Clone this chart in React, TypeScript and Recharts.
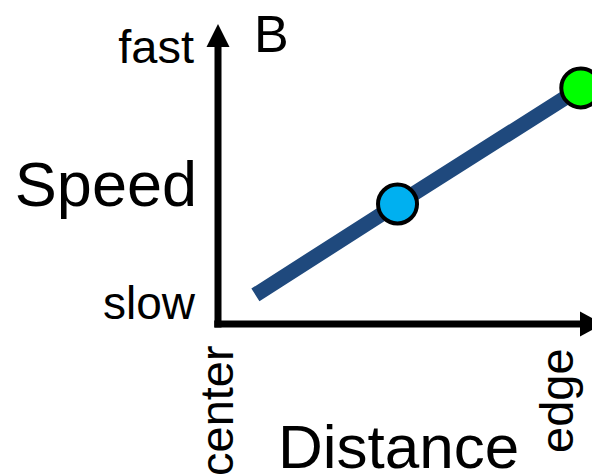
import { LineChart, Line, XAxis, YAxis, ReferenceLine, ReferenceDot } from 'recharts';

// distance from the centre (0) to the edge (1), and speed from slow (0) to fast (1)
const distance = [0.1, 0.48, 0.97];
const speed = [0.097, 0.4, 0.787];
const xTickLabels = ['center', 'edge'];
const yTickLabels = ['slow', 'fast'];
const panelLabel = 'B';
const xTitle = 'Distance';
const yTitle = 'Speed';

const data = distance.map((d, i) => ({ d, s: speed[i] }));

const markerFills = [null, '#00b0f0', '#00ff00'];
const FONT = '"Liberation Sans", Arial, sans-serif';

const Marker = (props: any) => {
    const { cx, cy, index } = props;
    const fill = markerFills[index];
    if (!fill) return <g key={`m-${index}`} />;
    return <circle key={`m-${index}`} cx={cx} cy={cy} r={19.5} fill={fill} stroke="#000" strokeWidth={4} />;
};

const UpArrow = (props: any) => {
    const { cx, cy } = props;
    return <polygon points={`${cx - 11.5},${cy + 23} ${cx},${cy} ${cx + 11.5},${cy + 23}`} fill="#000" />;
};

const RightArrow = (props: any) => {
    const { cx, cy } = props;
    return <polygon points={`${cx - 12},${cy - 12.5} ${cx + 11},${cy} ${cx - 12},${cy + 12.5}`} fill="#000" />;
};

const App = () => {
    return (
        <div style={{ position: 'relative', width: 592, height: 475, background: '#fff', overflow: 'hidden' }}>
            <style>{'body{margin:0}'}</style>
            <LineChart width={592} height={475} data={data} margin={{ top: 24, right: 0, bottom: 151, left: 218 }}>
                <XAxis type="number" dataKey="d" domain={[0, 1]} hide />
                <YAxis type="number" domain={[0, 1]} hide />
                <ReferenceLine
                    segment={[{ x: -0.01, y: 0 }, { x: 0.97, y: 0 }]}
                    stroke="#000"
                    strokeWidth={7}
                    ifOverflow="visible"
                />
                <ReferenceLine
                    segment={[{ x: 0, y: -0.012 }, { x: 0, y: 0.95 }]}
                    stroke="#000"
                    strokeWidth={7}
                    ifOverflow="visible"
                />
                <ReferenceDot x={0} y={1} ifOverflow="visible" shape={UpArrow} />
                <ReferenceDot x={1} y={0} ifOverflow="visible" shape={RightArrow} />
                <Line
                    type="linear"
                    dataKey="s"
                    stroke="#1f497d"
                    strokeWidth={15}
                    dot={Marker}
                    activeDot={false}
                    isAnimationActive={false}
                />
            </LineChart>
            <svg width={592} height={475} style={{ position: 'absolute', left: 0, top: 0, pointerEvents: 'none' }}>
                <g fontFamily={FONT} fill="#000">
                    <text x={194} y={63} fontSize={47} textAnchor="end">{yTickLabels[1]}</text>
                    <text x={195} y={319} fontSize={46} textAnchor="end">{yTickLabels[0]}</text>
                    <text x={197} y={206} fontSize={63} textAnchor="end">{yTitle}</text>
                    <text x={254} y={52} fontSize={52}>{panelLabel}</text>
                    <text x={278} y={468} fontSize={62}>{xTitle}</text>
                    <text transform="translate(233,476) rotate(-90)" fontSize={47}>{xTickLabels[0]}</text>
                    <text transform="translate(573,453) rotate(-90)" fontSize={47}>{xTickLabels[1]}</text>
                </g>
            </svg>
        </div>
    );
};

export default App;
